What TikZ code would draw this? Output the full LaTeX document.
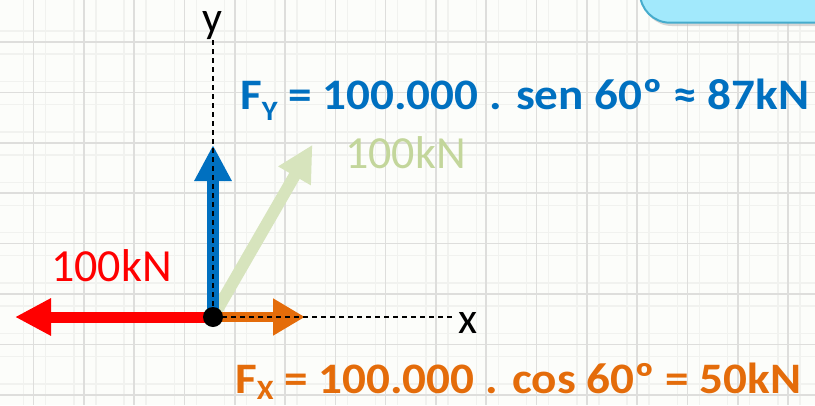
\documentclass[tikz,border=0pt]{standalone}
\usepackage{fontspec}
\setmainfont{Carlito}
\newfontfamily\eqfont[FakeStretch=1.085]{Carlito}
\usetikzlibrary{arrows.meta}
\definecolor{bgpaper}{RGB}{252,253,250}
\definecolor{gridmaj}{RGB}{222,222,220}
\definecolor{gridmin}{RGB}{241,242,239}
\definecolor{fblue}{RGB}{0,112,192}
\definecolor{forange}{RGB}{228,108,10}
\definecolor{fred}{RGB}{255,0,0}
\definecolor{fgreen}{RGB}{215,228,189}
\definecolor{fgreentxt}{RGB}{195,214,155}
\definecolor{boxfill}{RGB}{162,233,252}
\definecolor{boxedge}{RGB}{70,172,205}
\begin{document}
\begin{tikzpicture}[x=1pt,y=-1pt,
  majline/.style={draw=gridmaj, line width=1.6pt},
  minline/.style={draw=gridmin, line width=1.4pt},
  forcearrow/.style={line width=#1},
  headbig/.style={-{Triangle[length=36pt,width=35pt]}},
  headsmall/.style={-{Triangle[length=32pt,width=35pt]}},
  axisline/.style={draw=black, line width=1.6pt, dash pattern=on 5pt off 4pt},
  axislab/.style={anchor=base, inner sep=0pt, text height=18pt, text depth=6pt, font=\fontsize{44}{44}\selectfont},
  eqtext/.style={anchor=base west, inner sep=0pt, font=\eqfont\bfseries\fontsize{43.5}{50}\selectfont},
  magtext/.style={anchor=base west, inner sep=0pt, font=\fontsize{46}{50}\selectfont}]
\useasboundingbox (0,0) rectangle (815,405);
\fill[bgpaper] (0,0) rectangle (815,405);
% grid
\foreach \i in {0,...,16}{
  \draw[minline] ({33.5+50.3*\i-10},0) -- ++(0,405);
  \draw[minline] ({33.5+50.3*\i+12},0) -- ++(0,405);
}
\foreach \i in {0,...,8}{
  \draw[minline] (0,{42+50.4*\i-11}) -- ++(815,0);
  \draw[minline] (0,{42+50.4*\i+12}) -- ++(815,0);
}
\foreach \i in {0,...,15}{\draw[majline] ({33.5+50.3*\i},0) -- ++(0,405);}
\foreach \i in {0,...,7}{\draw[majline] (0,{42+50.4*\i}) -- ++(815,0);}
% top-right box
\fill[black!25, opacity=0.6, rounded corners=30pt] (642,-40) rectangle (870,26);
\draw[fill=boxfill, draw=boxedge, line width=2pt, rounded corners=30pt] (640,-40) rectangle (870,22.7);
% coordinates
\coordinate (O) at (213,317);
\coordinate (Ytop) at (213,40);
\coordinate (Xend) at (452,317);
\coordinate (Rtip) at (15,317);
\coordinate (Otip) at (305,317);
\coordinate (Btip) at (213,145);
\coordinate (Gtip) at (312.5,144.7);
% forces
\draw[forcearrow=12pt, headbig, draw=fgreen, fill=fgreen] (O) -- (Gtip);
\draw[forcearrow=12pt, headbig, draw=fblue, fill=fblue] (O) -- (Btip);
\draw[forcearrow=11pt, headbig, draw=fred, fill=fred] (O) -- (Rtip);
\draw[forcearrow=10pt, headsmall, draw=forange, fill=forange] (O) -- (Otip);
% axes
\draw[axisline] (Ytop) -- (O);
\draw[axisline] (O) -- (Xend);
\node[circle, fill=black, minimum size=20pt, inner sep=0pt] (dot) at (O) {};
\node[axislab] (ylab) at (212,32) {y};
\node[axislab] (xlab) at (468,333) {x};
% texts
\node[eqtext, text=fblue] (fy) at (240,109) {F\raisebox{-11pt}{\fontsize{28}{28}\selectfont Y} = 100.000 . sen 60º ≈ 87kN};
\node[eqtext, text=forange] (fx) at (235,393) {F\raisebox{-6pt}{\fontsize{28}{28}\selectfont X} = 100.000 . cos 60º = 50kN};
\node[magtext, text=fgreentxt] (gmag) at (345,168) {100kN};
\node[magtext, text=fred] (rmag) at (51,281.7) {100kN};
\end{tikzpicture}
\end{document}
